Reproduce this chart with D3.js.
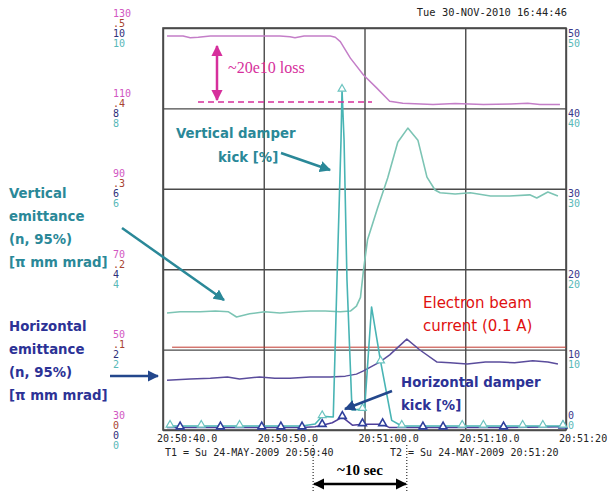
<!DOCTYPE html>
<html>
<head>
<meta charset="utf-8">
<script src="https://cdn.jsdelivr.net/npm/d3@7"></script>
<style>
  body { margin: 0; background: #fff; }
  .mono { font-family: "DejaVu Sans Mono", monospace; font-size: 10px; }
  .note { font-family: "DejaVu Sans", sans-serif; font-weight: bold; font-size: 13.3px; }
</style>
</head>
<body>
<script>
// Chart data (t = seconds after 20:50:40)
var gridTimes = [0, 10, 20, 30, 40];
var timeLabels = ["20:50:40.0", "20:50:50.0", "20:51:00.0", "20:51:10.0", "20:51:20"];
var kickTicks = [0, 10, 20, 30, 40, 50];
var intensityLabels = ["30", "50", "70", "90", "110", "130"];
var currentLabels = ["0", ".1", ".2", ".3", ".4", ".5"];
var hEmitLabels = ["0", "2", "4", "6", "8", "10"];
var vEmitLabels = ["0", "2", "4", "6", "8", "10"];
var kickLabels = ["0", "10", "20", "30", "40", "50"];

// beam intensity [e10], magenta scale 30..130
var intensity = [[0.4,128.0],[2.0,128.0],[2.7,127.6],[3.5,127.7],[4.7,128.0],[8.6,128.0],[11.6,128.0],
  [12.6,127.8],[13.1,127.6],[14.0,128.0],[16.6,128.0],[17.1,127.7],[17.6,126.6],[18.6,122.5],[19.9,118.3],
  [21.2,115.1],[22.5,111.8],[23.8,111.3],[26.8,111.0],[29.0,111.2],[31.8,111.0],[34.5,111.1],[36.2,111.3],
  [37.4,111.0],[39.4,111.0]];

// vertical emittance, 0..10
var vEmit = [[0.4,2.91],[1.7,2.94],[3.7,2.94],[5.2,2.96],[6.5,2.94],[7.3,2.81],[8.6,2.89],[10.1,2.94],
  [11.6,2.91],[13.1,2.94],[14.6,2.96],[16.1,2.96],[17.6,2.94],[18.6,2.96],[19.2,3.08],[19.6,3.3],[19.9,3.98],
  [20.3,4.73],[21.3,5.52],[22.3,6.27],[23.3,7.16],[24.3,7.51],[25.3,7.21],[26.2,6.29],[27.0,5.97],[27.5,5.90],
  [29.0,5.87],[30.5,5.90],[32.5,5.82],[34.4,5.82],[36.4,5.85],[37.1,5.77],[38.2,5.92],[39.2,5.82]];

// horizontal emittance, 0..10
var hEmit = [[0.4,1.24],[2.7,1.27],[4.7,1.29],[6.4,1.32],[7.6,1.27],[9.6,1.32],[11.1,1.29],[12.6,1.29],
  [14.6,1.32],[16.6,1.32],[18.1,1.34],[19.2,1.39],[19.9,1.47],[21.5,1.69],[22.5,1.87],[24.2,2.26],[25.5,1.99],
  [27.2,1.69],[28.5,1.67],[30.2,1.64],[32.0,1.69],[33.4,1.69],[34.9,1.67],[36.7,1.72],[38.2,1.69],[39.2,1.64]];

// vertical damper kick [%], 0..50 (third value: triangle marker)
var vKick = [[0.4,0.5,0],[0.7,0.5,1],[3.8,0.5,1],[7.6,0.5,1],[13.8,0.5,0],[15.1,0.75,0],[15.8,1.7,1],
  [16.9,1.62,0],[17.27,18.7,0],[17.67,36.1,0],[17.77,42.3,1],[17.97,36.1,0],[18.26,18.7,0],[18.76,2.49,0],
  [19.8,2.6,1],[20.0,2.4,0],[20.7,15.3,0],[21.6,8.5,1],[22.7,1.2,0],[23.7,0.5,1],[29.7,0.5,1],[31.8,0.5,1],
  [35.7,0.5,1],[37.7,0.5,1],[39.7,0.5,1]];

// horizontal damper kick [%], 0..50
var hKick = [[0.4,0.3,0],[1.7,0.3,1],[5.7,0.3,1],[9.8,0.3,1],[11.7,0.3,1],[13.8,0.3,1],[15.1,0.4,0],
  [15.8,0.6,1],[16.8,0.9,0],[17.8,1.6,1],[18.8,0.6,0],[19.8,0.7,1],[21.8,0.7,1],[22.5,0.3,0],[25.8,0.3,1],
  [27.8,0.3,1],[33.8,0.3,1],[39.7,0.4,1]];

// electron beam current [A], 0..0.5
var eCurrent = [[0.9,0.103],[40,0.103]];

// Chart params
var svgWidth = 608;
var svgHeight = 491;
var plot = { left: 163, right: 566, top: 28, bottom: 430 };

var svg = d3.select("body").append("svg")
  .attr("width", svgWidth)
  .attr("height", svgHeight)
  .style("background", "#fff");

// scales
var x = d3.scaleLinear().domain([0, 40]).range([plot.left, plot.right]);
var yInt = d3.scaleLinear().domain([30, 130]).range([plot.bottom, plot.top]);
var yCur = d3.scaleLinear().domain([0, 0.5]).range([plot.bottom, plot.top]);
var yEmit = d3.scaleLinear().domain([0, 10]).range([plot.bottom, plot.top]);
var yKick = d3.scaleLinear().domain([0, 50]).range([plot.bottom, plot.top]);

// arrow heads
var defs = svg.append("defs");
[["tealHead", "#2a8898"], ["blueHead", "#23478c"], ["pinkHead", "#d62f9c"], ["blackHead", "#000"]].forEach(function(m) {
  defs.append("marker")
    .attr("id", m[0])
    .attr("viewBox", "0 0 10 10")
    .attr("refX", 9).attr("refY", 5)
    .attr("markerWidth", 4.5).attr("markerHeight", 4.5)
    .attr("orient", "auto-start-reverse")
    .append("path")
    .attr("d", "M0,0 L10,5 L0,10 Z")
    .attr("fill", m[1]);
});

// grid
var gridX = svg.append("g")
  .attr("transform", `translate(0, ${plot.bottom})`)
  .call(d3.axisBottom(x).tickValues(gridTimes).tickSize(-(plot.bottom - plot.top)).tickFormat(""));
var gridY = svg.append("g")
  .attr("transform", `translate(${plot.left}, 0)`)
  .call(d3.axisLeft(yKick).tickValues(kickTicks).tickSize(-(plot.right - plot.left)).tickFormat(""));
[gridX, gridY].forEach(function(g) {
  g.select(".domain").remove();
  g.selectAll("line").attr("stroke", "#4a4a4a").attr("stroke-width", 1.4);
});
svg.append("rect")
  .attr("x", plot.left).attr("y", plot.top)
  .attr("width", plot.right - plot.left).attr("height", plot.bottom - plot.top)
  .attr("fill", "none").attr("stroke", "#4a4a4a").attr("stroke-width", 1.6);

// left stacked labels
var leftCols = [
  [intensityLabels, "#d257c2", -15],
  [currentLabels, "#a8432f", -5],
  [hEmitLabels, "#2e2f7a", 5],
  [vEmitLabels, "#58b8b8", 15]
];
leftCols.forEach(function(c) {
  svg.append("g").selectAll("text")
    .data(c[0])
    .enter()
    .append("text")
    .attr("class", "mono")
    .attr("x", 113)
    .attr("y", (d, i) => yKick(kickTicks[i]) + c[2])
    .attr("dominant-baseline", "central")
    .attr("fill", c[1])
    .text(d => d);
});

// right labels (kick %)
[["#38388a", 5], ["#58b8b8", 15]].forEach(function(c) {
  svg.append("g").selectAll("text")
    .data(kickLabels)
    .enter()
    .append("text")
    .attr("class", "mono")
    .attr("x", plot.right + 2)
    .attr("y", (d, i) => yKick(kickTicks[i]) + (i === 0 ? c[1] - 20 : c[1]))
    .attr("dominant-baseline", "central")
    .attr("fill", c[0])
    .text(d => d);
});

// time labels
svg.append("g").selectAll("text")
  .data(timeLabels)
  .enter()
  .append("text")
  .attr("class", "mono")
  .attr("x", (d, i) => x(gridTimes[i]) - (i === timeLabels.length - 1 ? 7 : 6))
  .attr("y", 438)
  .attr("dominant-baseline", "central")
  .attr("fill", "#222")
  .text(d => d);

svg.append("text").attr("class", "mono").attr("x", 165).attr("y", 452)
  .attr("dominant-baseline", "central").attr("fill", "#222")
  .text("T1 = Su 24-MAY-2009 20:50:40");
svg.append("text").attr("class", "mono").attr("x", 390).attr("y", 452)
  .attr("dominant-baseline", "central").attr("fill", "#222")
  .text("T2 = Su 24-MAY-2009 20:51:20");
svg.append("text").attr("class", "mono").attr("x", 567).attr("y", 12)
  .attr("text-anchor", "end").attr("dominant-baseline", "central").attr("fill", "#222")
  .style("font-size", "10.4px")
  .text("Tue 30-NOV-2010 16:44:46");

// series
function drawLine(data, yScale, color, width) {
  var line = d3.line().x(d => x(d[0])).y(d => yScale(d[1]));
  svg.append("path")
    .datum(data)
    .attr("d", line)
    .attr("fill", "none")
    .attr("stroke", color)
    .attr("stroke-width", width)
    .attr("stroke-linejoin", "round");
}
function drawMarks(data, yScale, color, width) {
  var tri = d3.symbol(d3.symbolTriangle).size(26);
  svg.append("g").selectAll("path")
    .data(data.filter(d => d[2]))
    .enter()
    .append("path")
    .attr("d", tri)
    .attr("transform", d => `translate(${x(d[0])}, ${yScale(d[1]) - 1})`)
    .attr("fill", "#fff")
    .attr("stroke", color)
    .attr("stroke-width", width);
}

drawLine(eCurrent, yCur, "#c0392f", 1);
drawLine(intensity, yInt, "#c47ec8", 1.5);
drawLine(vEmit, yEmit, "#7cc4b4", 1.6);
drawLine(hEmit, yEmit, "#5a4c9c", 1.5);
drawLine(hKick, yKick, "#4e3e9a", 1.5);
drawLine(vKick, yKick, "#48b4b4", 1.6);
drawMarks(hKick, yKick, "#2f3f9c", 1.6);
drawMarks(vKick, yKick, "#6cc4c0", 1.2);

// annotations
var pink = "#d62f9c";
svg.append("line")
  .attr("x1", 198).attr("x2", 372).attr("y1", 102).attr("y2", 102)
  .attr("stroke", pink).attr("stroke-width", 1.5).attr("stroke-dasharray", "6,4");
svg.append("line")
  .attr("x1", 217).attr("x2", 217).attr("y1", 46).attr("y2", 100)
  .attr("stroke", pink).attr("stroke-width", 2.5)
  .attr("marker-start", "url(#pinkHead)").attr("marker-end", "url(#pinkHead)");
svg.append("text")
  .attr("x", 228).attr("y", 73)
  .attr("fill", pink)
  .style("font-family", "'Liberation Serif', serif").style("font-size", "16px")
  .text("~20e10 loss");

function note(lines, x0, y0, color) {
  lines.forEach(function(t, i) {
    svg.append("text")
      .attr("class", "note")
      .attr("x", x0).attr("y", y0 + i * 23)
      .attr("fill", color)
      .text(t);
  });
}
var teal = "#2a8898";
var blue = "#2c3296";
note(["Vertical damper"], 176, 138, teal);
note(["kick [%]"], 218, 162, teal);
note(["Vertical", "emittance", "(n, 95%)", "[\u03c0 mm mrad]"], 9, 198, teal);
note(["Horizontal", "emittance", "(n, 95%)", "[\u03c0 mm mrad]"], 9, 331, blue);
note(["Horizontal damper"], 401, 387, blue);
note(["kick [%]"], 401, 410, blue);

svg.append("text").attr("x", 423).attr("y", 308).attr("fill", "#e01010")
  .style("font-family", "'DejaVu Sans', sans-serif").style("font-size", "15px")
  .text("Electron beam");
svg.append("text").attr("x", 423).attr("y", 331).attr("fill", "#e01010")
  .style("font-family", "'DejaVu Sans', sans-serif").style("font-size", "15px")
  .text("current (0.1 A)");

function arrow(x1, y1, x2, y2, color, head, w) {
  svg.append("line")
    .attr("x1", x1).attr("y1", y1).attr("x2", x2).attr("y2", y2)
    .attr("stroke", color).attr("stroke-width", w)
    .attr("marker-end", `url(#${head})`);
}
arrow(281, 153, 330, 170, teal, "tealHead", 2.5);
arrow(122, 228, 224, 300, teal, "tealHead", 2.5);
arrow(110, 376, 158, 376, "#23478c", "blueHead", 2.5);
arrow(392, 391, 345, 409, "#23478c", "blueHead", 2.5);

// ~10 sec span
[x(14.9), x(24.2)].forEach(function(px) {
  svg.append("line")
    .attr("x1", px).attr("x2", px).attr("y1", 445).attr("y2", 491)
    .attr("stroke", "#000").attr("stroke-width", 1).attr("stroke-dasharray", "1,2");
});
svg.append("line")
  .attr("x1", x(14.9) + 1).attr("x2", x(24.2) - 1).attr("y1", 484).attr("y2", 484)
  .attr("stroke", "#000").attr("stroke-width", 2.5)
  .attr("marker-start", "url(#blackHead)").attr("marker-end", "url(#blackHead)");
svg.append("text")
  .attr("x", (x(14.9) + x(24.2)) / 2).attr("y", 475)
  .attr("text-anchor", "middle")
  .style("font-family", "'Liberation Serif', serif").style("font-size", "15px").style("font-weight", "bold")
  .text("~10 sec");
</script>
</body>
</html>
